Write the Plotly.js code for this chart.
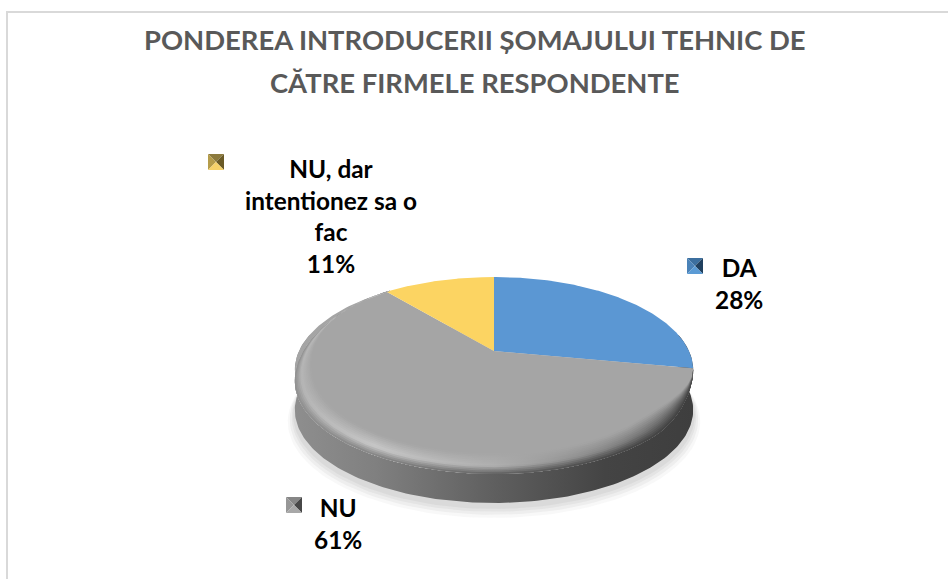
<!DOCTYPE html>
<html><head><meta charset="utf-8">
<script src="https://cdn.plot.ly/plotly-3.0.1.min.js"></script>
<style>html,body{margin:0;padding:0;background:#fff}#c{width:948px;height:579px}</style>
</head><body><div id="c"></div>
<script>
const categories = ['DA', 'NU', 'NU, dar intentionez sa o fac'];
const values = [28, 61, 11];
const sliceColors = ['#5b97d3', '#a5a5a5', '#fcd462'];
const titleLines = ['PONDEREA INTRODUCERII ȘOMAJULUI TEHNIC DE', 'CĂTRE FIRMELE RESPONDENTE'];

// Projected disc
const CX=494, CY=351, A=195, B=89.1, P=0.2043, DEPTH=40;
const rad=d=>d*Math.PI/180;
function pt(deg,r=1,dy=0){
  const u=Math.sin(rad(deg)), v=Math.cos(rad(deg));
  const d=1+P*v;
  return [CX+A*u/d*r, CY-B*v/d*r+dy];
}
function arc(a0,a1,rf=()=>1,dyf=()=>0,n=160){
  const o=[];for(let i=0;i<=n;i++){const a=a0+(a1-a0)*i/n;o.push(pt(a,rf(a),dyf(a)));}return o;
}
const traces=[];
function poly(pts,extra){
  traces.push(Object.assign({type:'scatter',mode:'lines',x:pts.map(p=>p[0]),y:pts.map(p=>p[1]),
    fill:'toself',line:{width:0},hoverinfo:'skip',showlegend:false},extra));
}
function hgrad(stops){return {type:'horizontal',colorscale:stops};}

// soft shadow
[[1.035,11,0.05],[1.025,9,0.07],[1.015,7,0.08],[1.008,5,0.09]].forEach(s=>{
  poly(arc(0,360,()=>s[0],()=>DEPTH+s[1]),{fillcolor:'rgba(120,120,120,'+s[2]+')'});
});

// wall
const wall=[[0,'#8e8e8e'],[0.2,'#808080'],[0.5,'#5f5f5f'],[0.78,'#444444'],[1,'#3e3e3e']];
poly(arc(79,281,()=>1,()=>DEPTH).concat(arc(281,79)),{fillcolor:'#777',fillgradient:hgrad(wall)});

// slices from values
const total=values.reduce((a,b)=>a+b,0);
let ang=0;
values.forEach((v,i)=>{
  const a1=ang+v/total*360;
  poly([[CX,CY]].concat(arc(ang,a1)).concat([[CX,CY]]),{fillcolor:sliceColors[i],name:categories[i]});
  ang=a1;
});

// bevel: nested bands on the near rim
const from=101, to=322, RIM=0.085, EXTRA=11;
const sm=t=>{t=Math.max(0,Math.min(1,t));return t*t*(3-2*t);};
const rimW=a=>sm((a-from)/35)*sm((to-a)/70);
const light=[[0,'#b4b4b4'],[0.2,'#c8c8c8'],[0.5,'#b0b0b0'],[0.78,'#868686'],[1,'#5c5c5c']];
const hex=h=>[parseInt(h.slice(1,3),16),parseInt(h.slice(3,5),16),parseInt(h.slice(5,7),16)];
const mix=(h1,h2,t)=>{const a=hex(h1),b=hex(h2);return 'rgb('+a.map((x,i)=>Math.round(x+(b[i]-x)*t)).join(',')+')';};
const N=12;
const rS=s=>a=>1-RIM*(1-s)*rimW(a);
const dS=s=>a=>EXTRA*s*rimW(a);
for(let k=0;k<N;k++){
  const s=k/N, f=(k+0.5)/N;
  const stops=light.map((l,i)=>{
    const c=f<0.6?mix('#a5a5a5',l[1],f/0.6):mix(l[1],wall[i][1],(f-0.6)/0.4);
    return [l[0],c];
  });
  poly(arc(from,to,rS(s),dS(s)).concat(arc(to,from,rS(1),dS(1))),{fillcolor:'#a5a5a5',fillgradient:hgrad(stops)});
}

// legend keys: bevelled squares
const keys=[
 {x:687,y:258,c:['#3c6f9f','#4a82b8','#20405f','#5b9bd5']},
 {x:286,y:497,c:['#868686','#979797','#474747','#a8a8a8']},
 {x:208,y:154,c:['#8c7a3e','#b59c4a','#6a5a26','#f6d26a']}
];
const S=16, shapes=[];
keys.forEach(k=>{
  const x0=k.x,x1=k.x+S,y0=k.y,y1=k.y+S,mx=k.x+S/2,my=k.y+S/2;
  const tri=[[x0,y0,x1,y0],[x0,y0,x0,y1],[x1,y0,x1,y1],[x0,y1,x1,y1]];
  tri.forEach((t,i)=>shapes.push({type:'path',xref:'x',yref:'y',
    path:`M${t[0]},${t[1]}L${t[2]},${t[3]}L${mx},${my}Z`,fillcolor:k.c[i],line:{width:0}}));
});
// chart frame: top and left edges only
shapes.push({type:'line',xref:'x',yref:'y',x0:6,y0:12,x1:948,y1:12,line:{color:'#d9d9d9',width:2}});
shapes.push({type:'line',xref:'x',yref:'y',x0:7,y0:12,x1:7,y1:579,line:{color:'#d9d9d9',width:2}});

const lab=(text,x,y)=>({text,x,y,xref:'x',yref:'y',xanchor:'center',yanchor:'middle',showarrow:false,align:'center',
  font:{family:'Lato, Carlito, sans-serif',size:24.4,color:'#000'}});
const ttl=(text,y)=>({text:'<b>'+text+'</b>',x:474.5,y,xref:'x',yref:'y',xanchor:'center',yanchor:'middle',showarrow:false,
  font:{family:'Lato, sans-serif',size:27.4,color:'#595959'}});
const pct=i=>Math.round(values[i]/total*100)+'%';
const annotations=[
  ttl(titleLines[0],39),ttl(titleLines[1],82),
  lab('<b>DA<br>'+pct(0)+'</b>',739,283),
  lab('<b>NU<br>'+pct(1)+'</b>',338,523),
  lab('<b>NU, dar<br>intentionez sa o<br>fac<br>'+pct(2)+'</b>',331,216)
];

Plotly.newPlot('c',traces,{
  width:948,height:579,margin:{l:0,r:0,t:0,b:0},
  paper_bgcolor:'#fff',plot_bgcolor:'#fff',showlegend:false,
  xaxis:{range:[0,948],visible:false,fixedrange:true},
  yaxis:{range:[579,0],visible:false,fixedrange:true},
  shapes,annotations
},{displayModeBar:false,staticPlot:true});
</script></body></html>
